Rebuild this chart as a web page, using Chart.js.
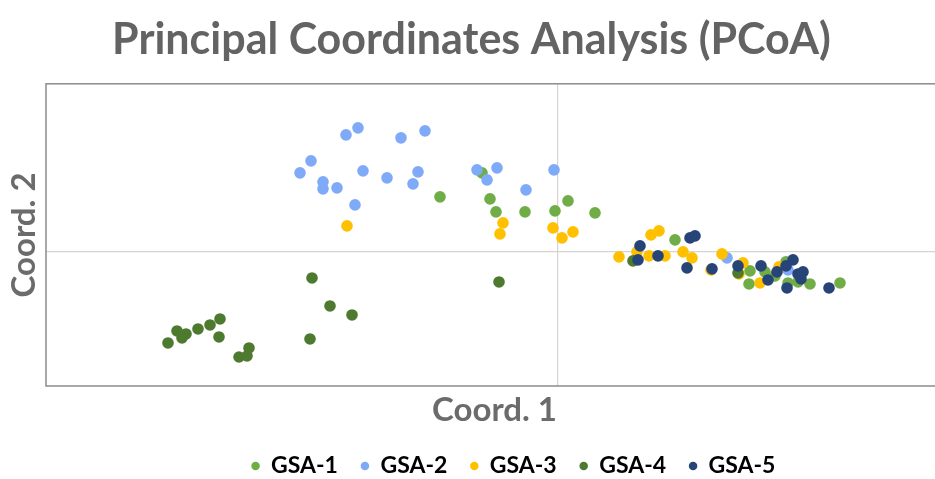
<!DOCTYPE html>
<html>
<head>
<meta charset="utf-8">
<script src="https://cdn.jsdelivr.net/npm/chart.js@4.4.1/dist/chart.umd.min.js"></script>
<style>
  html, body { margin: 0; padding: 0; background: #ffffff; overflow: hidden; }
  /* the plot area runs a little past the right edge of the picture, as in the reference */
  #wrap { width: 943px; height: 479px; position: relative; }
</style>
</head>
<body>
<div id="wrap"><canvas id="c"></canvas></div>
<script>
const seriesNames = ['GSA-1', 'GSA-2', 'GSA-3', 'GSA-4', 'GSA-5'];
const seriesColors = ['#70AD47', '#7FAAF8', '#FFC000', '#4E7A2F', '#264478'];

const gsa1 = [[-0.76,0.79],[-1.18,0.55],[-0.68,0.53],[-0.62,0.40],[-0.33,0.40],[-0.03,0.41],[0.10,0.51],[0.37,0.39],[1.17,0.12],[1.92,-0.19],[1.91,-0.32],[2.07,-0.20],[2.28,-0.10],[2.40,-0.30],[2.52,-0.32],[2.82,-0.31],[2.17,-0.24],[2.30,-0.31]];
const gsa2 = [[-2.00,1.24],[-2.12,1.17],[-1.33,1.21],[-1.57,1.14],[-2.47,0.91],[-2.58,0.79],[-1.95,0.81],[-2.35,0.70],[-2.35,0.63],[-2.21,0.64],[-1.71,0.74],[-1.40,0.80],[-1.45,0.68],[-2.03,0.47],[-0.81,0.82],[-0.61,0.84],[-0.71,0.72],[-0.32,0.62],[-0.04,0.82],[1.69,-0.06],[2.30,-0.18]];
const gsa3 = [[-2.11,0.26],[-0.55,0.29],[-0.58,0.18],[-0.05,0.24],[0.04,0.14],[0.15,0.20],[0.61,-0.05],[0.93,0.17],[1.01,0.21],[0.79,0.00],[0.91,-0.04],[1.07,-0.04],[1.25,0.00],[1.34,-0.06],[1.64,-0.02],[1.53,-0.18],[1.85,-0.11],[1.81,-0.22],[2.02,-0.31],[2.21,-0.15]];
const gsa4 = [[-2.46,-0.26],[-2.28,-0.54],[-2.06,-0.63],[-2.48,-0.87],[-3.38,-0.67],[-3.48,-0.73],[-3.60,-0.77],[-3.81,-0.79],[-3.72,-0.82],[-3.76,-0.86],[-3.90,-0.91],[-3.39,-0.85],[-3.09,-0.96],[-3.11,-1.04],[-3.19,-1.05],[-0.59,-0.30],[0.75,-0.09],[1.80,-0.21]];
const gsa5 = [[0.82,0.06],[0.80,-0.08],[1.00,-0.04],[1.32,0.14],[1.37,0.16],[1.29,-0.16],[1.54,-0.17],[1.80,-0.14],[2.03,-0.14],[2.10,-0.28],[2.19,-0.20],[2.28,-0.14],[2.35,-0.08],[2.40,-0.22],[2.43,-0.27],[2.29,-0.36],[2.71,-0.36],[2.45,-0.20]];

const xRange = [-5.12, 3.85];
const yRange = [-1.34, 1.68];

const allSeries = [gsa1, gsa2, gsa3, gsa4, gsa5];

const borderBox = {
  id: 'borderBox',
  beforeDatasetsDraw(chart) {
    const a = chart.chartArea, ctx = chart.ctx;
    ctx.save();
    ctx.strokeStyle = '#8C8C8C';
    ctx.lineWidth = 1.5;
    ctx.strokeRect(a.left, a.top, a.right - a.left, a.bottom - a.top);
    ctx.restore();
  }
};

// nudge the legend block to the right, as in the reference
const legendShift = {
  id: 'legendShift',
  afterLayout(chart) {
    if (chart.legend) { chart.legend.left += 19; chart.legend.right += 19; }
  }
};

const zeroGrid = (c) => (c.tick && c.tick.value === 0) ? '#D4D4D4' : 'rgba(0,0,0,0)';

new Chart(document.getElementById('c'), {
  type: 'scatter',
  data: {
    datasets: allSeries.map((pts, i) => ({
      label: seriesNames[i],
      data: pts.map(p => ({x: p[0], y: p[1]})),
      backgroundColor: seriesColors[i],
      borderColor: seriesColors[i],
      borderWidth: 0,
      pointRadius: 5.8,
      pointHoverRadius: 5.8,
      order: allSeries.length - i
    }))
  },
  options: {
    responsive: true,
    maintainAspectRatio: false,
    animation: false,
    layout: { autoPadding: false, padding: { left: 0, right: 0, top: 0, bottom: -8.5 } },
    plugins: {
      title: {
        display: true,
        text: 'Principal Coordinates Analysis (PCoA)',
        color: '#636363',
        font: { family: 'Lato', size: 43, weight: 'bold' },
        padding: { top: 14, bottom: 18.2 }
      },
      legend: {
        position: 'bottom',
        fullSize: false,
        labels: {
          usePointStyle: true,
          pointStyle: 'circle',
          boxWidth: 8,
          boxHeight: 6,
          padding: 23,
          color: '#000000',
          font: { family: 'Lato', size: 23, weight: 'bold' },
          sort: (a, b) => a.datasetIndex - b.datasetIndex
        }
      },
      tooltip: { enabled: false }
    },
    scales: {
      x: {
        type: 'linear',
        min: xRange[0], max: xRange[1],
        ticks: { display: false, stepSize: 1 },
        grid: { color: zeroGrid, lineWidth: 1.2, drawTicks: false },
        border: { display: false },
        title: {
          display: true, text: 'Coord. 1', color: '#6B6B6B',
          font: { family: 'Lato', size: 33, weight: 'bold' },
          padding: { top: 0, bottom: 1.7 }
        },
        afterFit(scale) { scale.height = 45.5; }
      },
      y: {
        type: 'linear',
        min: yRange[0], max: yRange[1],
        ticks: { display: false, stepSize: 1 },
        grid: { color: zeroGrid, lineWidth: 1.2, drawTicks: false },
        border: { display: false },
        title: {
          display: true, text: 'Coord. 2', color: '#6B6B6B',
          font: { family: 'Lato', size: 33, weight: 'bold' },
          padding: { top: 5, bottom: 0 }
        },
        afterFit(scale) { scale.width = 46; }
      }
    }
  },
  plugins: [borderBox, legendShift]
});
</script>
</body>
</html>
